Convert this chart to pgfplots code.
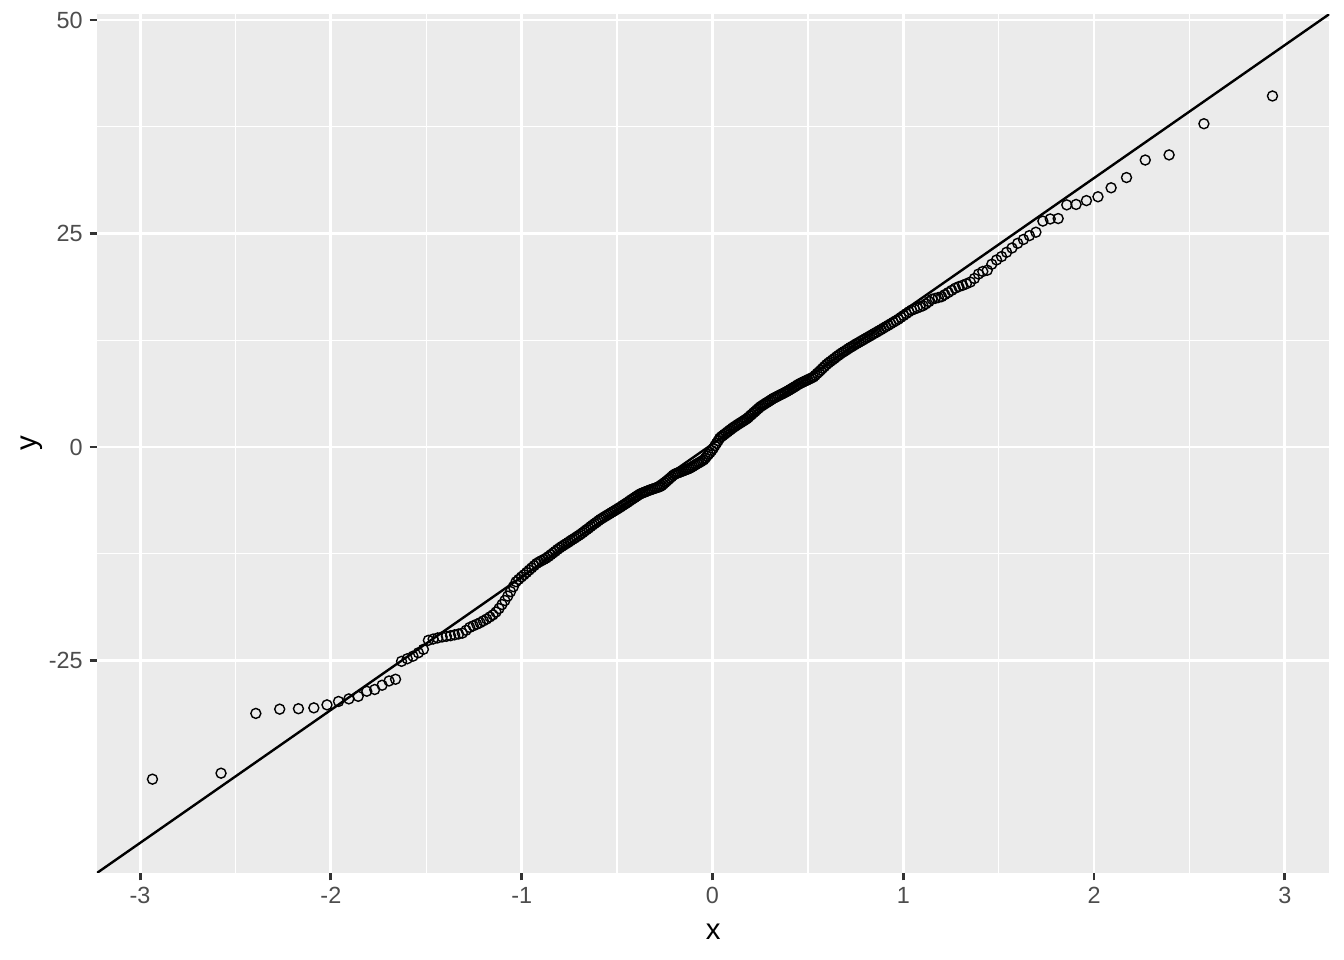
\documentclass[border=0pt]{standalone}
\usepackage{fontspec}
\setmainfont{Liberation Sans}
\usepackage{pgfplots}
\pgfplotsset{compat=1.18}
\definecolor{panelgrey}{HTML}{EBEBEB}
\definecolor{ticktext}{HTML}{4D4D4D}
\definecolor{tickline}{HTML}{333333}

% sample quantiles against theoretical normal quantiles (n = 300)
\pgfplotstableread{
x y
-2.9352 -38.9
-2.5758 -38.2
-2.3934 -31.2
-2.2684 -30.7
-2.1701 -30.65
-2.0894 -30.55
-2.0205 -30.2
-1.9600 -29.8
-1.9059 -29.5
-1.8569 -29.2
-1.8119 -28.6
-1.7704 -28.4
-1.7317 -27.9
-1.6953 -27.4
-1.6612 -27.2
-1.6298 -25.1
-1.5998 -24.8
-1.5698 -24.5
-1.5416 -24.1
-1.5153 -23.7
-1.4890 -22.64
-1.4640 -22.49
-1.4404 -22.36
-1.4169 -22.25
-1.3944 -22.17
-1.3729 -22.10
-1.3515 -22.0
-1.3309 -21.9
-1.3112 -21.8
-1.2914 -21.47
-1.2724 -21.13
-1.2540 -20.94
-1.2357 -20.76
-1.2179 -20.58
-1.2008 -20.36
-1.1836 -20.15
-1.1669 -19.9
-1.1507 -19.66
-1.1345 -19.33
-1.1187 -18.92
-1.1034 -18.45
-1.0880 -17.98
-1.0730 -17.46
-1.0584 -16.93
-1.0438 -16.36
-1.0294 -15.78
-1.0155 -15.5
-1.0015 -15.22
-0.9878 -14.96
-0.9743 -14.69
-0.9609 -14.42
-0.9477 -14.16
-0.9348 -13.9
-0.9218 -13.64
-0.9091 -13.47
-0.8966 -13.32
-0.8841 -13.17
-0.8719 -13.02
-0.8598 -12.83
-0.8477 -12.62
-0.8358 -12.42
-0.8240 -12.22
-0.8123 -12.0
-0.8007 -11.82
-0.7893 -11.64
-0.7779 -11.48
-0.7666 -11.32
-0.7555 -11.16
-0.7444 -10.99
-0.7334 -10.83
-0.7226 -10.68
-0.7117 -10.52
-0.7010 -10.36
-0.6904 -10.2
-0.6798 -10.03
-0.6693 -9.84
-0.6589 -9.67
-0.6485 -9.5
-0.6383 -9.31
-0.6281 -9.14
-0.6179 -8.97
-0.6078 -8.81
-0.5978 -8.64
-0.5878 -8.47
-0.5779 -8.34
-0.5681 -8.2
-0.5583 -8.07
-0.5486 -7.94
-0.5389 -7.81
-0.5292 -7.67
-0.5196 -7.55
-0.5101 -7.41
-0.5006 -7.29
-0.4912 -7.15
-0.4818 -7.03
-0.4724 -6.88
-0.4631 -6.75
-0.4538 -6.61
-0.4445 -6.48
-0.4353 -6.33
-0.4262 -6.19
-0.4170 -6.06
-0.4079 -5.92
-0.3989 -5.79
-0.3898 -5.65
-0.3808 -5.52
-0.3719 -5.43
-0.3629 -5.35
-0.3540 -5.27
-0.3452 -5.19
-0.3363 -5.11
-0.3275 -5.03
-0.3187 -4.97
-0.3099 -4.9
-0.3011 -4.83
-0.2924 -4.77
-0.2837 -4.7
-0.2750 -4.64
-0.2663 -4.52
-0.2577 -4.36
-0.2491 -4.18
-0.2405 -4.0
-0.2318 -3.84
-0.2233 -3.66
-0.2147 -3.5
-0.2062 -3.32
-0.1976 -3.18
-0.1891 -3.1
-0.1806 -3.03
-0.1721 -2.95
-0.1637 -2.88
-0.1552 -2.81
-0.1468 -2.73
-0.1383 -2.66
-0.1299 -2.59
-0.1215 -2.51
-0.1131 -2.41
-0.1046 -2.3
-0.0962 -2.18
-0.0879 -2.07
-0.0795 -1.95
-0.0711 -1.85
-0.0627 -1.74
-0.0543 -1.62
-0.0460 -1.51
-0.0376 -1.31
-0.0293 -1.08
-0.0209 -0.86
-0.0125 -0.65
-0.0042 -0.41
0.0042 -0.16
0.0125 0.14
0.0209 0.43
0.0293 0.72
0.0376 1.02
0.0460 1.2
0.0543 1.34
0.0627 1.49
0.0711 1.63
0.0795 1.77
0.0879 1.92
0.0962 2.06
0.1046 2.21
0.1131 2.34
0.1215 2.46
0.1299 2.59
0.1383 2.71
0.1468 2.83
0.1552 2.95
0.1637 3.07
0.1721 3.19
0.1806 3.32
0.1891 3.48
0.1976 3.66
0.2062 3.82
0.2147 4.0
0.2233 4.16
0.2318 4.34
0.2405 4.5
0.2491 4.68
0.2577 4.81
0.2663 4.93
0.2750 5.06
0.2837 5.19
0.2924 5.3
0.3011 5.43
0.3099 5.56
0.3187 5.69
0.3275 5.78
0.3363 5.88
0.3452 5.99
0.3540 6.09
0.3629 6.19
0.3719 6.29
0.3808 6.4
0.3898 6.5
0.3989 6.62
0.4079 6.74
0.4170 6.86
0.4262 6.99
0.4353 7.11
0.4445 7.25
0.4538 7.37
0.4631 7.48
0.4724 7.58
0.4818 7.68
0.4912 7.78
0.5006 7.88
0.5101 7.98
0.5196 8.09
0.5292 8.19
0.5389 8.39
0.5486 8.61
0.5583 8.8
0.5681 9.01
0.5779 9.23
0.5878 9.44
0.5978 9.66
0.6078 9.84
0.6179 10.01
0.6281 10.18
0.6383 10.35
0.6485 10.54
0.6589 10.71
0.6693 10.88
0.6798 11.04
0.6904 11.19
0.7010 11.34
0.7117 11.5
0.7226 11.66
0.7334 11.8
0.7444 11.95
0.7555 12.1
0.7666 12.24
0.7779 12.39
0.7893 12.53
0.8007 12.68
0.8123 12.83
0.8240 12.98
0.8358 13.13
0.8477 13.29
0.8598 13.44
0.8719 13.6
0.8841 13.75
0.8966 13.93
0.9091 14.09
0.9218 14.26
0.9348 14.43
0.9477 14.61
0.9609 14.78
0.9743 14.96
0.9878 15.18
1.0015 15.39
1.0155 15.61
1.0294 15.83
1.0438 16.03
1.0584 16.15
1.0730 16.28
1.0880 16.41
1.1034 16.54
1.1187 16.76
1.1345 17.02
1.1507 17.3
1.1669 17.4
1.1836 17.5
1.2008 17.6
1.2179 17.84
1.2357 18.08
1.2540 18.34
1.2724 18.59
1.2914 18.78
1.3112 18.93
1.3309 19.11
1.3515 19.31
1.3729 19.73
1.3944 20.25
1.4169 20.55
1.4404 20.7
1.4640 21.4
1.4890 21.9
1.5153 22.3
1.5416 22.8
1.5698 23.3
1.5998 23.85
1.6298 24.3
1.6612 24.75
1.6953 25.15
1.7317 26.45
1.7704 26.7
1.8119 26.75
1.8569 28.35
1.9059 28.4
1.9600 28.85
2.0205 29.3
2.0894 30.35
2.1701 31.55
2.2684 33.6
2.3934 34.2
2.5758 37.85
2.9352 41.1
}\qqdata

\begin{document}
\begin{tikzpicture}
\begin{axis}[
  at={(0,0)}, anchor=south west,
  scale only axis,
  width=616.2pt, height=429.5pt,
  xmin=-3.226, xmax=3.233,
  ymin=-49.88, ymax=50.70,
  axis background/.style={fill=panelgrey},
  axis line style={draw=none},
  xtick={-3,-2,-1,0,1,2,3},
  xticklabels={-3,-2,-1,0,1,2,3},
  ytick={-25,0,25,50},
  yticklabels={-25,0,25,50},
  xtick pos=bottom, ytick pos=left,
  minor tick num=1,
  grid=both,
  major grid style={white, line width=1.42pt},
  minor grid style={white, line width=0.71pt},
  tick align=outside,
  major tick length=3.67pt,
  minor tick length=0pt,
  tick style={tickline, line width=1.42pt},
  ticklabel style={font=\fontsize{11.7}{13}\selectfont, text=ticktext},
  xlabel={x}, ylabel={y},
  label style={font=\fontsize{14.7}{16}\selectfont},
  xlabel style={at={(axis description cs:0.5,0)}, anchor=center, yshift=-29.5pt},
  ylabel style={at={(axis description cs:0,0.5)}, anchor=center, yshift=32.5pt},
]
\addplot[only marks, mark=o, mark size=2.5pt, mark options={black, line width=0.7pt}] table[x=x, y=y] {\qqdata};
\addplot[black, line width=1.2pt] coordinates {(-3.4,-52.59) (3.4,53.29)};
\end{axis}
\pgfresetboundingbox
\path[use as bounding box] (-48.5pt,-43.5pt) rectangle (623.55pt,436.5pt);
\end{tikzpicture}
\end{document}
